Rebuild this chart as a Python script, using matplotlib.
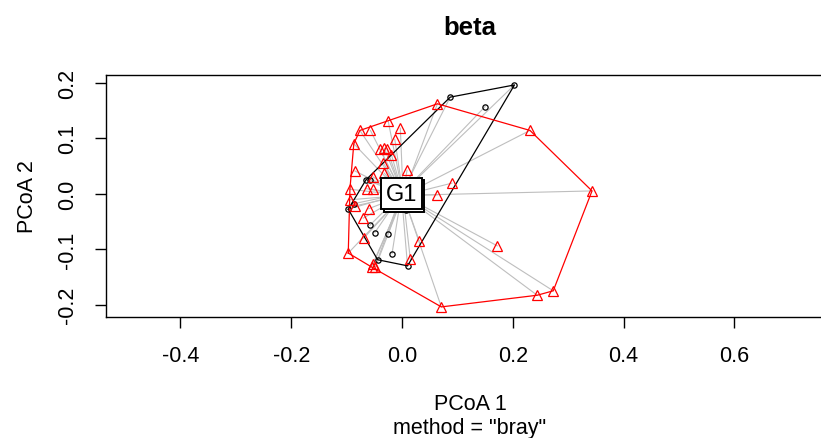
"""
plot.py — betadisper-style PCoA plot (bray), two groups with hulls.
"""

import numpy as np
import matplotlib
matplotlib.use("Agg")
import matplotlib.pyplot as plt
import matplotlib.patheffects as pe

# ── Data ──────────────────────────────────────────────────
grp1_x = [0.203, 0.087, 0.150, -0.065, -0.057, -0.087, -0.097, -0.058,
          -0.049, -0.025, -0.018, -0.044, 0.010, 0.007]
grp1_y = [0.196, 0.174, 0.157, 0.025, 0.025, -0.018, -0.028, -0.057,
          -0.070, -0.073, -0.108, -0.119, -0.130, -0.029]

grp2_x = [0.064, 0.231, 0.343, 0.273, 0.244, 0.071, -0.025, -0.057,
          -0.076, -0.003, -0.087, -0.013, -0.040, -0.032, -0.027, -0.019,
          -0.034, -0.032, 0.009, -0.085, -0.052, -0.094, -0.064, -0.052,
          0.090, 0.064, -0.094, -0.085, -0.060, -0.070, -0.069, -0.097,
          -0.055, -0.048, -0.052, 0.015, 0.031, 0.172]
grp2_y = [0.162, 0.114, 0.005, -0.175, -0.183, -0.204, 0.131, 0.114,
          0.114, 0.118, 0.090, 0.098, 0.081, 0.082, 0.080, 0.070,
          0.056, 0.037, 0.042, 0.041, 0.030, 0.008, 0.009, 0.008,
          0.019, -0.002, -0.011, -0.022, -0.027, -0.044, -0.080, -0.107,
          -0.132, -0.132, -0.127, -0.118, -0.085, -0.094]

# group centroids (both sit under the single visible label)
cent_x = [-0.001, 0.002]
cent_y = [0.000, -0.003]
cent_label = "G1"

x_ticks = [-0.4, -0.2, 0.0, 0.2, 0.4, 0.6]
y_ticks = [-0.2, -0.1, 0.0, 0.1, 0.2]


def hull(xs, ys):
    """Monotone chain convex hull, returns closed polygon."""
    pts = sorted(zip(xs, ys))

    def cross(o, a, b):
        return (a[0] - o[0]) * (b[1] - o[1]) - (a[1] - o[1]) * (b[0] - o[0])

    lower, upper = [], []
    for p in pts:
        while len(lower) >= 2 and cross(lower[-2], lower[-1], p) <= 0:
            lower.pop()
        lower.append(p)
    for p in reversed(pts):
        while len(upper) >= 2 and cross(upper[-2], upper[-1], p) <= 0:
            upper.pop()
        upper.append(p)
    poly = lower[:-1] + upper[:-1]
    poly.append(poly[0])
    return np.array(poly)


# ── Figure setup ──────────────────────────────────────────
plt.rcParams.update({
    "font.family": ["Liberation Sans", "DejaVu Sans"],
    "font.size": 15.5,
})

fig = plt.figure(figsize=(8.21, 4.39), dpi=100)
fig.patch.set_facecolor("white")
ax = fig.add_axes([106 / 821, 121 / 439, 728 / 821, 242 / 439])

ax.set_xlim(-0.5343, 0.7798)
ax.set_ylim(-0.2222, 0.2139)

groups = [
    (grp1_x, grp1_y, "black", "o", 3.8, 0),
    (grp2_x, grp2_y, "red", "^", 6.8, 1),
]

for gx, gy, col, mk, ms, ci in groups:
    cx, cy = cent_x[ci], cent_y[ci]
    for px, py in zip(gx, gy):
        ax.plot([px, cx], [py, cy], color="#bebebe", lw=0.8, zorder=1)
    h = hull(gx, gy)
    ax.plot(h[:, 0], h[:, 1], color=col, lw=0.9, zorder=2)
    ax.plot(gx, gy, linestyle="none", marker=mk, ms=ms, mfc="none",
            mec=col, mew=0.9, zorder=3)

# centroid label with an offset copy of its box behind it
lab = ax.text(cent_x[0], cent_y[0], cent_label, ha="center", va="center",
              fontsize=17, zorder=5,
              bbox=dict(boxstyle="square,pad=0.2", fc="white", ec="black", lw=1.4))
lab.get_bbox_patch().set_path_effects([
    pe.PathPatchEffect(offset=(1.8, -1.8), facecolor="white",
                       edgecolor="black", linewidth=1.4),
    pe.Normal(),
])

ax.set_xticks(x_ticks)
ax.set_xticklabels([f"{v:.1f}" for v in x_ticks])
ax.set_yticks(y_ticks)
ax.set_yticklabels([f"{v:.1f}" for v in y_ticks], rotation=90, va="center")
ax.tick_params(axis="both", length=8, width=1, pad=12, labelsize=15.5)
for sp in ax.spines.values():
    sp.set_linewidth(1.0)

ax.set_ylabel("PCoA 2", fontsize=15.5, labelpad=14)

# titles / labels placed like the R output
fig.text(470 / 821, 1 - 28 / 439, "beta", ha="center", va="center",
         fontsize=18.5, fontweight="bold")
fig.text(470 / 821, 1 - 405 / 439, "PCoA 1", ha="center", va="center",
         fontsize=15.5)
fig.text(470 / 821, 1 - 429 / 439, 'method = "bray"', ha="center", va="center",
         fontsize=15.5)

fig.savefig("out.png", dpi=100, facecolor=fig.get_facecolor())
plt.close()
